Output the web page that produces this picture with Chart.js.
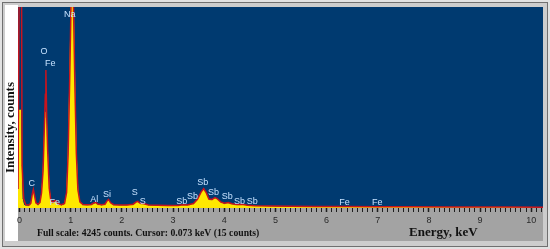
<!DOCTYPE html>
<html>
<head>
<meta charset="utf-8">
<script src="https://cdn.jsdelivr.net/npm/chart.js@4"></script>
<style>
  html, body { margin: 0; padding: 0; background: #ffffff; }
  #wrap { width: 550px; height: 249px; }
</style>
</head>
<body>
<div id="wrap"><canvas id="spectrumChart" width="550" height="249"></canvas></div>
<script>
// Energi (keV) tiap titik spektrum
var energy = [
  -0.03, 0.00, 0.02, 0.035, 0.05, 0.08, 0.12, 0.18, 0.22, 0.25,
  0.27, 0.29, 0.32, 0.36, 0.40, 0.43, 0.46, 0.485, 0.505, 0.515,
  0.53, 0.55, 0.58, 0.61, 0.65, 0.69, 0.72, 0.76, 0.82, 0.88,
  0.92, 0.95, 0.98, 1.00, 1.02, 1.04, 1.06, 1.08, 1.11, 1.14,
  1.18, 1.24, 1.32, 1.40, 1.46, 1.49, 1.53, 1.60, 1.67, 1.71,
  1.74, 1.78, 1.84, 1.95, 2.10, 2.22, 2.28, 2.31, 2.36, 2.44,
  2.52, 2.70, 2.90, 3.10, 3.19, 3.28, 3.40, 3.48, 3.55, 3.60,
  3.65, 3.70, 3.76, 3.82, 3.86, 3.93, 4.00, 4.08, 4.15, 4.25,
  4.35, 4.45, 4.60, 4.90, 5.30, 5.80, 6.40, 7.00, 7.60, 8.50,
  9.50, 10.23
];

// Spektrum kuning (terisi)
var countsFill = [
  1500, 2070, 2070, 900, 200, 60, 40, 35, 70, 250,
  340, 230, 80, 50, 90, 280, 700, 1500, 1900, 2030,
  1700, 1100, 380, 150, 90, 130, 110, 60, 45, 70,
  300, 1100, 2600, 3800, 5200, 5200, 3800, 2600, 1100, 350,
  100, 50, 45, 50, 85, 95, 60, 45, 55, 130,
  160, 90, 50, 45, 45, 60, 110, 120, 80, 70,
  45, 40, 35, 40, 55, 50, 80, 170, 320, 390,
  300, 170, 160, 200, 180, 110, 80, 95, 70, 55,
  65, 45, 35, 25, 20, 15, 15, 12, 10, 8,
  8, 6
];

// Spektrum merah (garis pembanding)
var countsLine = [
  400, 6000, 6000, 6000, 900, 200, 70, 60, 100, 300,
  390, 280, 110, 80, 120, 320, 800, 1700, 2400, 2915,
  1950, 1200, 420, 170, 120, 160, 140, 90, 70, 95,
  330, 1150, 2700, 3900, 5300, 5300, 3900, 2700, 1150, 390,
  130, 75, 70, 75, 110, 120, 85, 70, 80, 150,
  180, 110, 70, 65, 65, 80, 130, 140, 100, 90,
  65, 60, 55, 55, 70, 65, 95, 190, 340, 410,
  320, 190, 180, 220, 200, 130, 100, 115, 90, 75,
  80, 60, 50, 40, 35, 30, 30, 28, 25, 22,
  20, 18
];

var tickLabels = ["0", "1", "2", "3", "4", "5", "6", "7", "8", "9", "10"];

// Label unsur: nama, posisi energi dan tinggi (counts)
var peakNames = ["Na", "O", "Fe", "C", "Fe", "Al", "Si", "S", "S",
  "Sb", "Sb", "Sb", "Sb", "Sb", "Sb", "Sb", "Fe", "Fe"];
var peakKeV = [0.98, 0.48, 0.60, 0.24, 0.69, 1.46, 1.71, 2.25, 2.41,
  3.17, 3.38, 3.58, 3.79, 4.06, 4.30, 4.55, 6.35, 6.99];
var peakCounts = [4076, 3295, 3041, 507, 106, 169, 275, 317, 127,
  127, 253, 528, 317, 232, 127, 127, 106, 106];

var fullScale = 4245;
var footerText = "Full scale: 4245 counts. Cursor: 0.073 keV (15 counts)";

function isMajor(v) {
  return Math.abs(v - Math.round(v)) < 0.001;
}

// Panel latar: bingkai, strip putih, area biru, pita abu-abu
var panelPlugin = {
  id: "panel",
  beforeDraw: function (chart) {
    var ctx = chart.ctx;
    var a = chart.chartArea;
    ctx.save();
    ctx.fillStyle = "#e2e2e2";
    ctx.fillRect(0, 0, 550, 249);
    ctx.fillStyle = "#cdcdcd";
    ctx.fillRect(3, 3, 544, 243);
    ctx.strokeStyle = "#707070";
    ctx.lineWidth = 1;
    ctx.strokeRect(2.5, 2.5, 545, 244);
    ctx.fillStyle = "#ffffff";
    ctx.fillRect(5, 5, a.left - 5, 236);
    ctx.fillStyle = "#003a70";
    ctx.fillRect(a.left, a.top, a.right - a.left, a.bottom - a.top);
    ctx.fillStyle = "#a3a3a3";
    ctx.fillRect(a.left, a.bottom, a.right - a.left, 241 - a.bottom);
    ctx.restore();
  },
  afterDraw: function (chart) {
    var ctx = chart.ctx;
    var a = chart.chartArea;
    var xs = chart.scales.x;
    var ys = chart.scales.y;
    ctx.save();
    // label unsur
    ctx.fillStyle = "#c6e2ff";
    ctx.font = "9px 'Liberation Sans', Arial, sans-serif";
    ctx.textAlign = "center";
    ctx.textBaseline = "middle";
    for (var i = 0; i < peakNames.length; i++) {
      ctx.fillText(peakNames[i], xs.getPixelForValue(peakKeV[i]), ys.getPixelForValue(peakCounts[i]));
    }
    // teks bawah
    ctx.fillStyle = "#111111";
    ctx.textAlign = "left";
    ctx.font = "bold 9.7px 'Liberation Serif', 'Times New Roman', serif";
    ctx.fillText(footerText, 37, 233);
    ctx.font = "bold 13px 'Liberation Serif', 'Times New Roman', serif";
    ctx.fillText("Energy, keV", 409, 233);
    // judul sumbu y
    ctx.translate(11, (a.top + a.bottom) / 2 + 20);
    ctx.rotate(-Math.PI / 2);
    ctx.textAlign = "center";
    ctx.fillText("Intensity, counts", 0, 0);
    ctx.restore();
  }
};

var ctxSpectrum = document.getElementById("spectrumChart").getContext("2d");

var spectrumChart = new Chart(ctxSpectrum, {
  type: "line",
  data: {
    datasets: [
      {
        label: "line",
        data: energy.map(function (e, i) { return { x: e, y: countsLine[i] }; }),
        borderColor: "#c8141e",
        borderWidth: 1.5,
        fill: false,
        pointRadius: 0,
        tension: 0
      },
      {
        label: "fill",
        data: energy.map(function (e, i) { return { x: e, y: countsFill[i] }; }),
        borderColor: "#ffe800",
        borderWidth: 1,
        backgroundColor: "#ffe800",
        fill: "origin",
        pointRadius: 0,
        tension: 0
      }
    ]
  },
  options: {
    responsive: false,
    animation: false,
    devicePixelRatio: 1,
    layout: { padding: { left: 18, right: 7, top: 7, bottom: 8 } },
    plugins: {
      legend: { display: false },
      tooltip: { enabled: false }
    },
    scales: {
      x: {
        type: "linear",
        min: -0.03,
        max: 10.23,
        afterFit: function (axis) { axis.height = 33; },
        border: { display: false },
        grid: {
          drawOnChartArea: false,
          drawTicks: true,
          tickLength: 4,
          tickColor: "#1e1e1e",
          tickWidth: function (c) { return c.tick && isMajor(c.tick.value) ? 1.5 : 1; }
        },
        ticks: {
          stepSize: 0.1,
          includeBounds: false,
          autoSkip: false,
          maxRotation: 0,
          padding: 3,
          color: "#2a2a2a",
          font: { size: 9, family: "'Liberation Sans', Arial, sans-serif" },
          callback: function (v) { return isMajor(v) ? tickLabels[Math.round(v)] : ""; }
        }
      },
      y: {
        display: false,
        min: 0,
        max: fullScale
      }
    }
  },
  plugins: [panelPlugin]
});
</script>
</body>
</html>
